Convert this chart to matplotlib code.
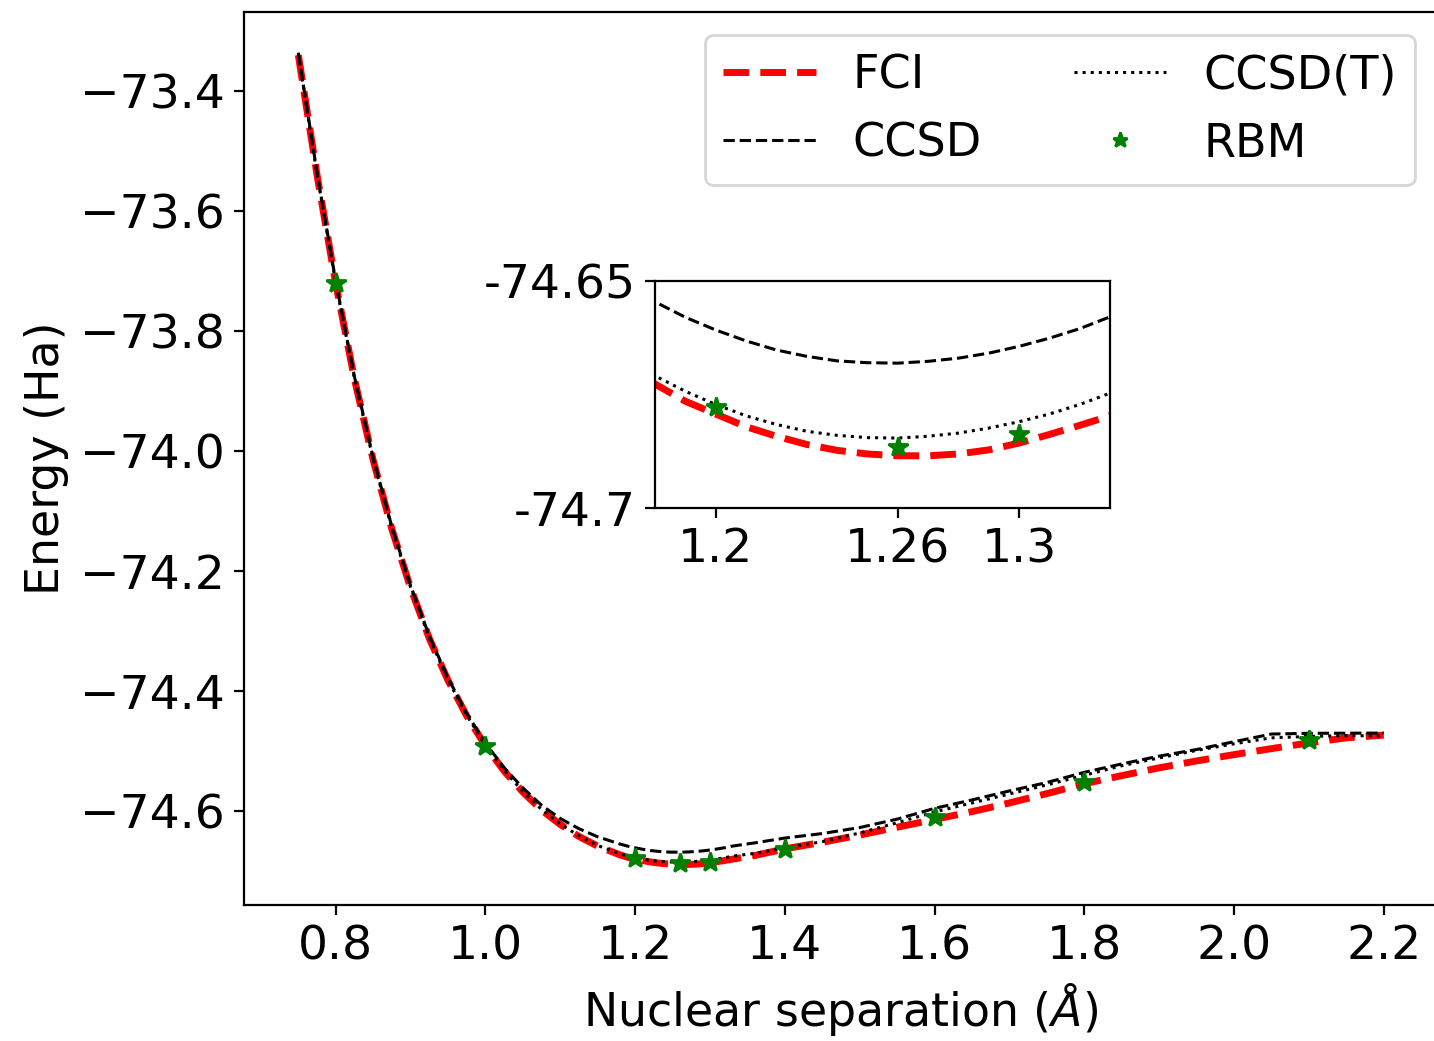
import matplotlib
matplotlib.use("Agg")
import matplotlib.pyplot as plt
import numpy as np

sep = [0.75, 0.775, 0.80, 0.825, 0.85, 0.875, 0.90, 0.925, 0.95, 0.975,
       1.00, 1.025, 1.05, 1.075, 1.10, 1.125, 1.15,
       1.18, 1.19, 1.20, 1.21, 1.22, 1.23, 1.24, 1.25, 1.26, 1.27,
       1.28, 1.29, 1.30, 1.31, 1.32, 1.33,
       1.36, 1.40, 1.45, 1.50, 1.55, 1.60, 1.65, 1.70, 1.75, 1.80,
       1.85, 1.90, 1.95, 2.00, 2.05, 2.10, 2.15, 2.20]

e_fci = [-73.340, -73.540, -73.721, -73.880, -74.015, -74.130, -74.228, -74.312, -74.382, -74.441,
         -74.491, -74.533, -74.568, -74.598, -74.622, -74.642, -74.658,
         -74.6727, -74.6765, -74.6793, -74.6821, -74.6842, -74.6860, -74.6873, -74.6881, -74.6885, -74.6885,
         -74.6881, -74.6872, -74.6857, -74.6838, -74.6818, -74.6797,
         -74.6735, -74.6625, -74.6515, -74.6395, -74.6265, -74.6135, -74.6005, -74.5860, -74.5705, -74.5540,
         -74.5405, -74.5275, -74.5160, -74.5055, -74.4955, -74.4860, -74.4775, -74.4730]

e_ccsd = [-73.336, -73.536, -73.717, -73.876, -74.011, -74.126, -74.224, -74.308, -74.378, -74.437,
          -74.4865, -74.5275, -74.561, -74.590, -74.612, -74.629, -74.6425,
          -74.6546, -74.6580, -74.6608, -74.6632, -74.6652, -74.6666, -74.6676, -74.6680, -74.6681, -74.6677,
          -74.6670, -74.6659, -74.6644, -74.6626, -74.6605, -74.6579,
          -74.6525, -74.6445, -74.6370, -74.6270, -74.6130, -74.5950, -74.5810, -74.5660, -74.5520, -74.5350,
          -74.5210, -74.5080, -74.4970, -74.4840, -74.4712, -74.4700, -74.4698, -74.4696]

e_ccsdt = [-73.339, -73.539, -73.720, -73.879, -74.014, -74.129, -74.227, -74.311, -74.381, -74.440,
           -74.490, -74.532, -74.567, -74.597, -74.621, -74.641, -74.657,
           -74.6709, -74.6743, -74.6772, -74.6797, -74.6816, -74.6831, -74.6840, -74.6845, -74.6846, -74.6842,
           -74.6835, -74.6824, -74.6810, -74.6793, -74.6772, -74.6747,
           -74.6700, -74.6610, -74.6505, -74.6360, -74.6190, -74.6010, -74.5860, -74.5710, -74.5560, -74.5400,
           -74.5240, -74.5110, -74.4985, -74.4875, -74.4775, -74.4752, -74.4738, -74.4745]

rbm_sep = [0.8, 1.0, 1.2, 1.26, 1.3, 1.4, 1.6, 1.8, 2.1]
rbm_e = [-73.720, -74.491, -74.6778, -74.6865, -74.6837, -74.662, -74.610, -74.551, -74.481]

FS = 17
plt.rcParams['font.size'] = FS

fig = plt.figure(figsize=(7.17, 5.205), dpi=200)
ax = fig.add_axes([0.1702, 0.1306, 0.8326, 0.8578])


def draw(a):
    a.plot(sep, e_fci, "r--", lw=2.5, label="FCI")
    a.plot(sep, e_ccsd, "k--", lw=1.1, label="CCSD")
    a.plot(sep, e_ccsdt, "k:", lw=1.1, label="CCSD(T)")
    a.plot(rbm_sep, rbm_e, "*", color="green", ls="none", markersize=7.5, label="RBM", zorder=5)


draw(ax)
ax.set_xlabel(r"Nuclear separation ($Å$)", fontsize=16.5)
ax.set_ylabel("Energy (Ha)", fontsize=16.5)
ax.set_xticks([0.8, 1.0, 1.2, 1.4, 1.6, 1.8, 2.0, 2.2])
ax.set_yticks([-73.4, -73.6, -73.8, -74.0, -74.2, -74.4, -74.6])
ax.legend(loc="upper right", ncol=2, fontsize=16.6, markerscale=0.75)

# zoomed view around the minimum
ins = fig.add_axes([0.4568, 0.512, 0.3173, 0.2181])
draw(ins)
ins.set_xlim(1.18, 1.33)
ins.set_ylim(-74.7, -74.65)
ins.set_xticks([1.2, 1.26, 1.3])
ins.set_xticklabels(["1.2", "1.26", "1.3"])
ins.set_yticks([-74.7, -74.65])
ins.set_yticklabels(["-74.7", "-74.65"])

fig.savefig("out.png", dpi=200)
